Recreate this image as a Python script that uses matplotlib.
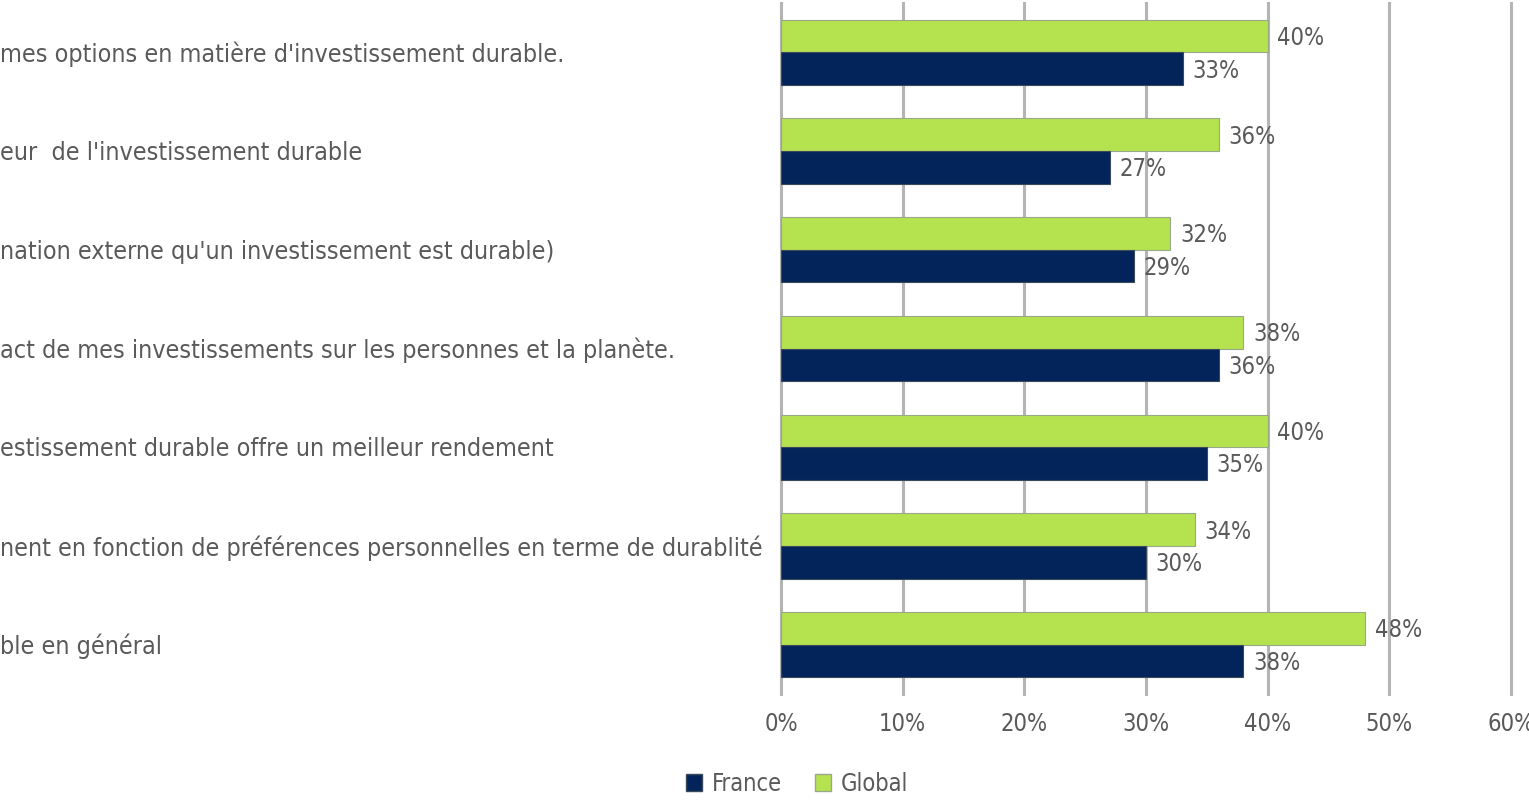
import numpy as np
import matplotlib
matplotlib.use("Agg")
import matplotlib.pyplot as plt
from matplotlib.patches import Patch

plt.rcParams['font.family'] = ['DejaVu Sans']
plt.rcParams['font.stretch'] = 'condensed'

# libellés (tronqués à gauche comme dans l'export d'origine)
categories = [
    "mes options en matière d'investissement durable.",
    "eur  de l'investissement durable",
    "nation externe qu'un investissement est durable)",
    "act de mes investissements sur les personnes et la planète.",
    "estissement durable offre un meilleur rendement",
    "nent en fonction de préférences personnelles en terme de durablité",
    "ble en général",
]
global_vals = [40, 36, 32, 38, 40, 34, 48]
france_vals = [33, 27, 29, 36, 35, 30, 38]
xticks = [0, 10, 20, 30, 40, 50, 60]

vert = "#b5e350"
marine = "#03245a"
gris = "#5a5a5a"
fs = 17

fig = plt.figure(figsize=(15.29, 8), dpi=100)
ax = fig.add_axes([781 / 1529, 1 - 694 / 800, (1511 - 781) / 1529, 691 / 800])

y = np.arange(len(categories))
h = 0.33
b1 = ax.barh(y - h / 2, global_vals, height=h, color=vert, edgecolor="#9aa88a", linewidth=0.8, zorder=3)
b2 = ax.barh(y + h / 2, france_vals, height=h, color=marine, edgecolor="#3a4a5a", linewidth=0.8, zorder=3)

for bars, vals in ((b1, global_vals), (b2, france_vals)):
    for r, v in zip(bars, vals):
        ax.annotate(f"{v}%", (v, r.get_y() + r.get_height() / 2 + 0.02), xytext=(7, 0),
                    textcoords="offset points", ha="left", va="center",
                    fontsize=fs, color=gris, zorder=4)

ax.set_xlim(0, 60)
ax.set_ylim(len(categories) - 0.5, -0.5)
ax.set_xticks(xticks)
ax.set_xticklabels([f"{t}%" for t in xticks], fontsize=fs, color=gris)
ax.set_yticks([])
ax.tick_params(axis="x", length=0, pad=13)
ax.grid(axis="x", color="#b4b4b4", linewidth=2.2, zorder=0)
for gl in ax.get_xgridlines():
    gl.set_clip_on(False)
for s in ax.spines.values():
    s.set_visible(False)

# libellés des catégories à gauche
for i, lab in enumerate(categories):
    yy = ax.transData.transform((0, i))[1]
    fig.text(0, (yy - 2) / 800, lab, ha="left", va="center", fontsize=18, color=gris)

handles = [Patch(facecolor=marine, edgecolor="#3a4a5a", label="France"),
           Patch(facecolor=vert, edgecolor="#9aa88a", label="Global")]
fig.legend(handles=handles, loc="center", bbox_to_anchor=(797 / 1529, 1 - 784 / 800),
           ncol=2, frameon=False, fontsize=fs, handlelength=0.7, handleheight=0.7,
           handletextpad=0.4, columnspacing=1.4, labelcolor=gris)

fig.savefig("out.png", dpi=100)
